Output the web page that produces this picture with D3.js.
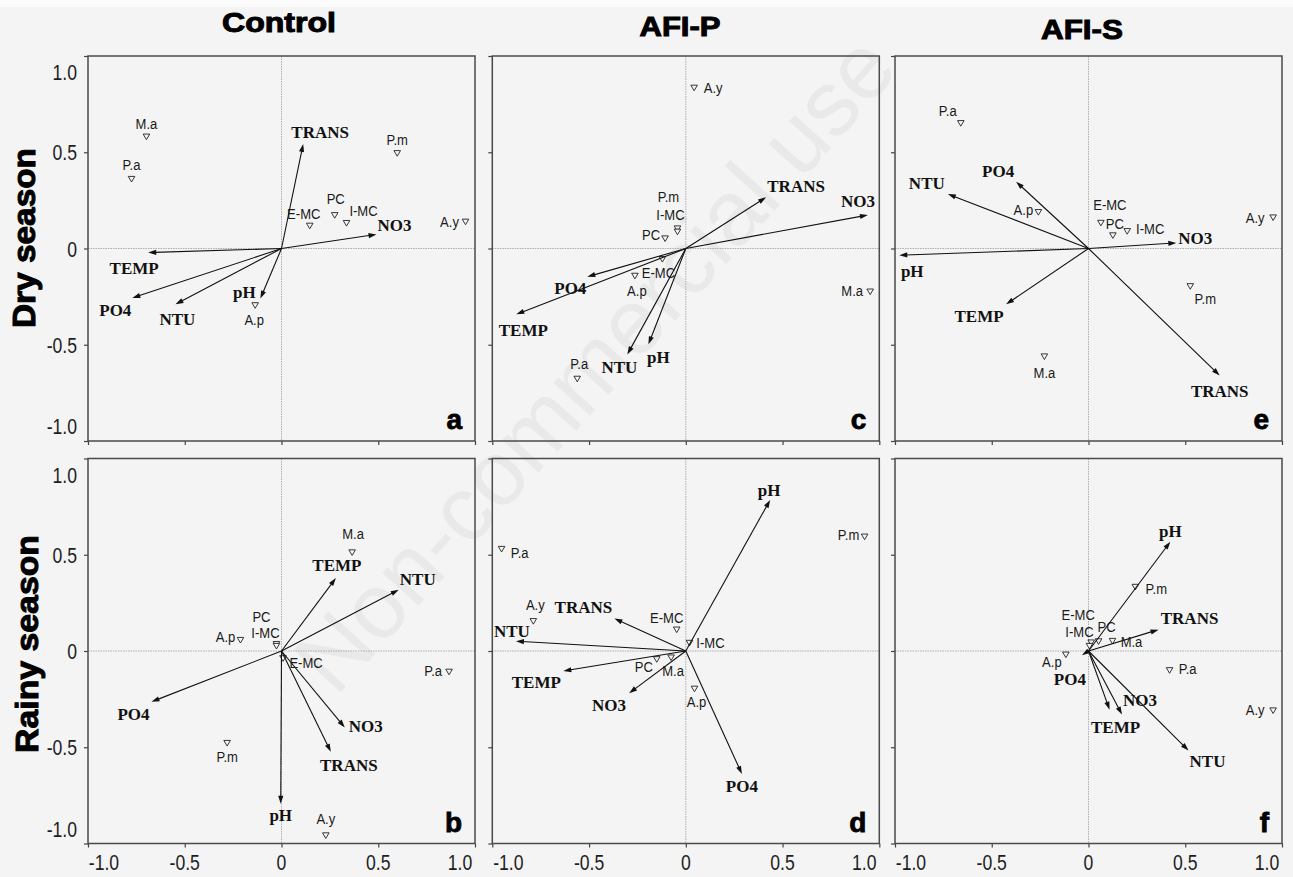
<!DOCTYPE html>
<html><head><meta charset="utf-8">
<script src="https://cdn.jsdelivr.net/npm/d3@7"></script>
<style>body{margin:0;background:#f4f4f4}svg{display:block}</style>
</head><body><svg id="chart" width="1293" height="877"></svg>
<script>
// ---------- data ----------
const envNames = ["TRANS","NO3","TEMP","PO4","NTU","pH"];
const speciesNames = ["M.a","P.a","P.m","PC","E-MC","I-MC","A.y","A.p"];
const tickValues = [-1,-0.5,0,0.5,1];
const tickLabels = ["-1.0","-0.5","0","0.5","1.0"];
const columnTitles = ["Control","AFI-P","AFI-S"];
const rowTitles = ["Dry season","Rainy season"];

// Dry season
const envA = [[0.112,0.543],[0.491,0.073],[-0.689,-0.021],[-0.771,-0.257],[-0.548,-0.290],[-0.109,-0.260]];
const sppA = [[-0.698,0.581],[-0.775,0.361],[0.598,0.495],[0.275,0.173],[0.146,0.118],[0.336,0.132],[0.951,0.139],[-0.136,-0.295]];
const envC = [[0.415,0.266],[0.941,0.174],[-0.876,-0.342],[-0.509,-0.147],[-0.302,-0.550],[-0.193,-0.498]];
const sppC = [[0.953,-0.224],[-0.561,-0.677],[-0.043,0.104],[-0.107,0.052],[-0.121,-0.055],[-0.043,0.087],[0.043,0.835],[-0.263,-0.142]];
const envE = [[0.678,-0.660],[0.454,0.029],[-0.426,-0.290],[-0.374,0.347],[-0.727,0.283],[-0.978,-0.035]];
const sppE = [[-0.228,-0.561],[-0.660,0.651],[0.526,-0.196],[0.126,0.068],[0.064,0.133],[0.200,0.090],[0.954,0.161],[-0.259,0.189]];
// Rainy season
const envB = [[0.255,-0.524],[0.327,-0.397],[0.281,0.379],[-0.672,-0.264],[0.606,0.318],[-0.004,-0.793]];
const sppB = [[0.365,0.512],[0.866,-0.108],[-0.281,-0.478],[-0.026,0.036],[0.008,-0.038],[-0.026,0.026],[0.229,-0.958],[-0.212,0.057]];
const envD = [[-0.369,0.169],[-0.293,-0.219],[-0.633,-0.104],[0.290,-0.639],[-0.878,0.051],[0.436,0.785]];
const sppD = [[-0.076,-0.034],[-0.952,0.530],[0.924,0.594],[-0.150,-0.043],[-0.047,0.111],[0.019,0.042],[-0.788,0.155],[0.045,-0.196]];
const envF = [[0.362,0.111],[0.173,-0.330],[0.109,-0.305],[-0.034,-0.022],[0.517,-0.517],[0.423,0.568]];
const sppF = [[0.124,0.052],[0.419,-0.100],[0.242,0.333],[0.052,0.050],[0.014,0.044],[0.005,0.026],[0.954,-0.309],[-0.117,-0.019]];

// ---------- label placement (pixel offsets from mark) ----------
const envOff = {
  a:[[17,-12],[18,-9],[-14,16],[-17,12],[2,15],[-16,-6]],
  c:[[30,-11],[-10,-14],[7,16],[-17,11],[-8,13],[10,13]],
  e:[[0,16],[19,-5],[-27,12],[-18,-11],[-21,-11],[13,16]],
  b:[[18,13],[21,-1],[1,-13],[-18,12],[19,-11],[0,12]],
  d:[[-31,-11],[-20,12],[-27,11],[0,12],[-4,-10],[-1,-10]],
  f:[[31,-11],[18,-14],[6,17],[-12,24],[19,11],[0,-10]]
};
const sppOff = {
  a:[[0,-13],[0,-14],[0,-13],[1,-16],[-6,-12],[17,-12],[-16,0],[-1,15]],
  c:[[-18,-1],[2,-15],[-9,-31],[-14,-3],[-4,14],[-7,-17],[19,0],[2,15]],
  e:[[0,17],[-13,-12],[15,13],[2,-11],[9,-18],[23,-2],[-18,0],[-15,-2]],
  b:[[1,-18],[-16,-1],[0,14],[-15,-27],[23,5],[-11,-13],[0,-16],[-15,-3]],
  d:[[2,13],[18,4],[-16,-2],[-13,8],[-10,-12],[21,0],[2,-16],[2,13]],
  f:[[19,1],[18,-1],[21,2],[8,-14],[-13,-28],[-10,-14],[-18,0],[-14,7]]
};

const panels = [
  {id:"a",col:0,row:0,env:envA,spp:sppA},
  {id:"c",col:1,row:0,env:envC,spp:sppC},
  {id:"e",col:2,row:0,env:envE,spp:sppE},
  {id:"b",col:0,row:1,env:envB,spp:sppB},
  {id:"d",col:1,row:1,env:envD,spp:sppD},
  {id:"f",col:2,row:1,env:envF,spp:sppF}
];

// ---------- layout ----------
const colX = [88, 492.3, 895];
const rowY = [56, 458.5];
const W = 387, H = 385;
const BG = "#f4f4f4";
const SANS = "'Liberation Sans', Arial, Helvetica, sans-serif";
const SERIF = "'Liberation Serif', 'Times New Roman', serif";

const svg = d3.select("#chart");
svg.append("rect").attr("width",1293).attr("height",877).attr("fill",BG);
svg.append("rect").attr("width",1293).attr("height",7).attr("fill","#fbfbfb");

// watermark
svg.append("text").text("Non-commercial use")
  .attr("transform","translate(600,368) rotate(-48)")
  .attr("text-anchor","middle").attr("dominant-baseline","middle")
  .attr("font-family",SANS).attr("font-size",92)
  .attr("fill","#e9e9e9");

// column titles
const titleY = [32, 36, 39];
const titleX = [279, 680, 1082];
const titleLen = [114, 81, 82];
columnTitles.forEach((t,i)=>{
  svg.append("text").text(t)
    .attr("x",titleX[i]).attr("y",titleY[i])
    .attr("text-anchor","middle")
    .attr("font-family",SANS).attr("font-weight","bold").attr("font-size",27)
    .attr("textLength",titleLen[i]).attr("lengthAdjust","spacingAndGlyphs")
    .attr("fill","#000").attr("stroke","#000").attr("stroke-width",1);
});
// row titles
const rowCenter = [238, 644];
const rowBase = [34.5, 37.5];
const rowLen = [180, 218];
rowTitles.forEach((t,i)=>{
  svg.append("text").text(t)
    .attr("transform",`translate(${rowBase[i]},${rowCenter[i]}) rotate(-90)`)
    .attr("text-anchor","middle")
    .attr("font-family",SANS).attr("font-weight","bold").attr("font-size",32)
    .attr("textLength",rowLen[i]).attr("lengthAdjust","spacingAndGlyphs")
    .attr("fill","#000").attr("stroke","#000").attr("stroke-width",1);
});

function drawPanel(p){
  const x0 = colX[p.col], y0 = rowY[p.row];
  const x = d3.scaleLinear().domain([-1,1]).range([x0, x0+W]);
  const y = d3.scaleLinear().domain([-1,1]).range([y0+H, y0]);
  const g = svg.append("g");

  // zero lines
  g.append("line").attr("x1",x(0)).attr("x2",x(0)).attr("y1",y0).attr("y2",y0+H)
    .attr("stroke","#9a9a9a").attr("stroke-width",0.8).attr("stroke-dasharray","1.5,1");
  g.append("line").attr("x1",x0).attr("x2",x0+W).attr("y1",y(0)).attr("y2",y(0))
    .attr("stroke","#9a9a9a").attr("stroke-width",0.8).attr("stroke-dasharray","1.5,1");

  // axes ticks
  const la = g.append("g").attr("transform",`translate(${x0},0)`)
    .call(d3.axisLeft(y).tickValues(tickValues).tickSize(4).tickSizeOuter(0).tickFormat(""));
  const ba = g.append("g").attr("transform",`translate(0,${y0+H})`)
    .call(d3.axisBottom(x).tickValues(tickValues).tickSize(4).tickSizeOuter(0).tickFormat(""));
  [la,ba].forEach(a=>{ a.select(".domain").remove(); a.selectAll("line").attr("stroke","#444").attr("stroke-width",1.2); });

  // frame
  g.append("rect").attr("x",x0).attr("y",y0).attr("width",W).attr("height",H)
    .attr("fill","none").attr("stroke","#4a4a4a").attr("stroke-width",1.5);

  // tick labels
  if(p.col===0){
    tickValues.forEach((v,i)=>{
      const shift = v===1 ? 16 : (v===-1 ? -15 : 0);
      g.append("g").attr("transform",`translate(${x0-11},${y(v)+8+shift}) scale(0.8,1)`)
        .append("text").text(tickLabels[i]).attr("text-anchor","end")
        .attr("font-family",SANS).attr("font-size",22).attr("fill","#1e1e1e");
    });
  }
  if(p.row===1){
    tickValues.forEach((v,i)=>{
      const shift = v===-1 ? 16 : (v===1 ? -15 : 0);
      g.append("g").attr("transform",`translate(${x(v)+shift},${y0+H+26.5}) scale(0.8,1)`)
        .append("text").text(tickLabels[i]).attr("text-anchor","middle")
        .attr("font-family",SANS).attr("font-size",22).attr("fill","#1e1e1e");
    });
  }

  // species triangles
  p.spp.forEach((s,i)=>{
    const cx = x(s[0]), cy = y(s[1]);
    g.append("path")
      .attr("d",`M${cx-3.3},${cy-2.6}L${cx+3.3},${cy-2.6}L${cx},${cy+3}Z`)
      .attr("fill",BG).attr("stroke","#222").attr("stroke-width",0.9);
  });

  // environmental arrows
  const sx = x(0), sy = y(0);
  p.env.forEach((v,i)=>{
    const tx = x(v[0]), ty = y(v[1]);
    const a = Math.atan2(ty-sy, tx-sx);
    const L = 8, w = 2.6;
    const bx = tx - L*Math.cos(a), by = ty - L*Math.sin(a);
    g.append("line").attr("x1",sx).attr("y1",sy).attr("x2",bx+2*Math.cos(a)).attr("y2",by+2*Math.sin(a))
      .attr("stroke","#111").attr("stroke-width",1.1);
    g.append("path")
      .attr("d",`M${tx},${ty}L${bx - w*Math.sin(a)},${by + w*Math.cos(a)}L${bx + w*Math.sin(a)},${by - w*Math.cos(a)}Z`)
      .attr("fill","#111");
  });

  // species labels
  p.spp.forEach((s,i)=>{
    const o = sppOff[p.id][i];
    g.append("g").attr("transform",`translate(${x(s[0])+o[0]},${y(s[1])+o[1]+5}) scale(0.9,1)`)
      .append("text").text(speciesNames[i]).attr("text-anchor","middle")
      .attr("font-family",SANS).attr("font-size",14.5).attr("fill","#1a1a1a");
  });

  // env labels
  p.env.forEach((v,i)=>{
    const o = envOff[p.id][i];
    g.append("text").text(envNames[i])
      .attr("x",x(v[0])+o[0]).attr("y",y(v[1])+o[1]+5.8)
      .attr("text-anchor","middle")
      .attr("font-family",SERIF).attr("font-weight","bold").attr("font-size",17)
      .attr("fill","#111");
  });

  // panel letter
  g.append("text").text(p.id)
    .attr("x",x0+W-13).attr("y",y0+H-12).attr("text-anchor","end")
    .attr("font-family",SANS).attr("font-weight","bold").attr("font-size",28)
    .attr("fill","#000").attr("stroke","#000").attr("stroke-width",0.8);
}
panels.forEach(drawPanel);
</script></body></html>
